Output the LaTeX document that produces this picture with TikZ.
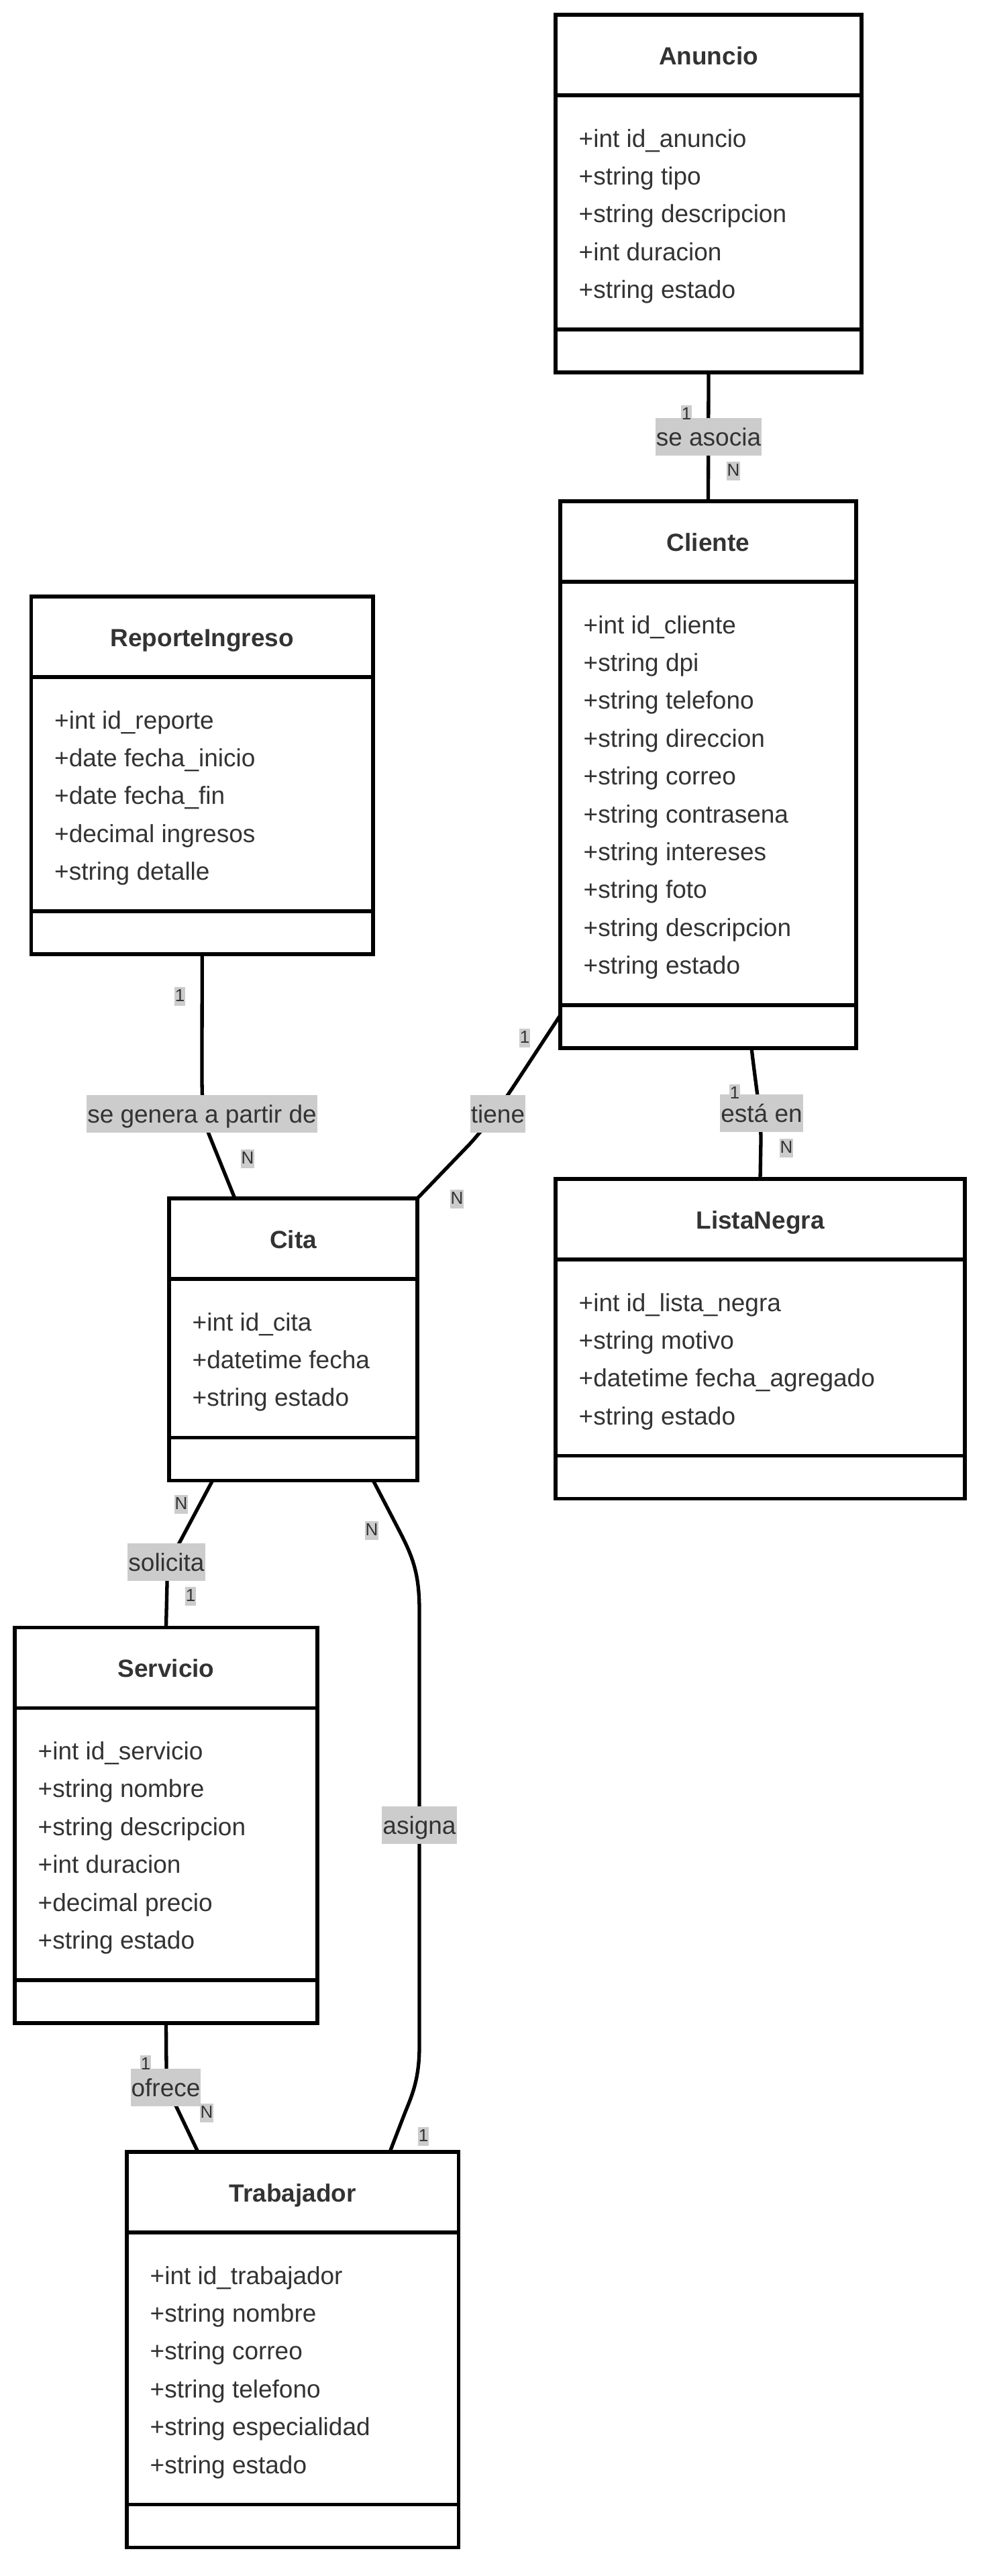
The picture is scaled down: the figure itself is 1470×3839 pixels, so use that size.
\documentclass[tikz,border=0pt]{standalone}
\usepackage{fontspec}
\setmainfont{Liberation Sans}
\definecolor{txt}{HTML}{333333}
\definecolor{lblgray}{HTML}{CCCCCC}
\tikzset{
  classframe/.style={draw=black, line width=5.3pt, fill=white, rectangle, inner sep=0pt, outer sep=0pt},
  divline/.style={draw=black, line width=5.3pt},
  titletext/.style={font=\fontsize{37pt}{44pt}\selectfont\bfseries, text=txt, inner sep=0pt, anchor=base},
  attrtext/.style={font=\fontsize{37pt}{44pt}\selectfont, text=txt, inner sep=0pt, anchor=base west},
  conn/.style={draw=black, line width=5.3pt},
  elabel/.style={fill=lblgray, text=txt, font=\fontsize{37pt}{44pt}\selectfont, inner xsep=1pt, inner ysep=0pt, text height=41pt, text depth=15pt},
  card/.style={fill=lblgray, text=txt, font=\fontsize{26pt}{30pt}\selectfont, inner xsep=0.5pt, inner ysep=0pt, text height=21pt, text depth=7pt}
}
\newcommand\umlclass[7]{%
  \pgfmathsetmacro\ucW{#3-#2}%
  \pgfmathsetmacro\ucH{120+#5*56.4+67+64}%
  \pgfmathsetmacro\ucX{(#2+#3)/2}%
  \pgfmathsetmacro\ucY{#4+\ucH/2}%
  \pgfmathsetmacro\ucDa{#4+120}%
  \pgfmathsetmacro\ucDb{#4+120+#5*56.4+67}%
  \node[classframe, minimum width=\ucW pt, minimum height=\ucH pt] (#1) at (\ucX,\ucY) {};
  \draw[divline] (#2,\ucDa) -- (#3,\ucDa);
  \draw[divline] (#2,\ucDb) -- (#3,\ucDb);
  \node[titletext] (#1-title) at (\ucX,#4+74) {#6};
  \foreach \a [count=\i] in {#7} {
    \pgfmathsetmacro\ucAy{#4+120+64+13+(\i-1)*56.4}
    \node[attrtext] (#1-a\i) at (#2+34.5,\ucAy) {\a};
  }
}
\begin{document}
\begin{tikzpicture}[x=1pt, y=-1pt]
\useasboundingbox (0,0) rectangle (1470,3839);
\fill[white] (0,0) rectangle (1470,3839);

\umlclass{anuncio}{828}{1284}{22}{5}{Anuncio}{+int id\_anuncio,+string tipo,+string descripcion,+int duracion,+string estado}
\umlclass{cliente}{835}{1276}{747}{10}{Cliente}{+int id\_cliente,+string dpi,+string telefono,+string direccion,+string correo,+string contrasena,+string intereses,+string foto,+string descripcion,+string estado}
\umlclass{reporte}{46.5}{556}{889}{5}{ReporteIngreso}{+int id\_reporte,+date fecha\_inicio,+date fecha\_fin,+decimal ingresos,+string detalle}
\umlclass{cita}{252}{622}{1786}{3}{Cita}{+int id\_cita,+datetime fecha,+string estado}
\umlclass{lista}{828}{1438}{1757}{4}{ListaNegra}{+int id\_lista\_negra,+string motivo,+datetime fecha\_agregado,+string estado}
\umlclass{servicio}{22}{473}{2425.5}{6}{Servicio}{+int id\_servicio,+string nombre,+string descripcion,+int duracion,+decimal precio,+string estado}
\umlclass{trabajador}{189}{683.5}{3207}{6}{Trabajador}{+int id\_trabajador,+string nombre,+string correo,+string telefono,+string especialidad,+string estado}

% named end points
\coordinate (clienteBot) at (1120,1562);
\coordinate (clienteLeft) at (835,1513);
\coordinate (citaTR) at (622,1786);
\coordinate (citaTop) at (350,1786);
\coordinate (citaBotL) at (317,2206);
\coordinate (citaBotR) at (556,2206);
\coordinate (trabTopL) at (295,3207);
\coordinate (trabTopR) at (581,3207);
% label centres
\coordinate (lAsocia) at (1056,651);
\coordinate (lEsta) at (1135,1659);
\coordinate (lTiene) at (742,1660);
\coordinate (lGenera) at (301,1660);
\coordinate (lSolicita) at (248,2328);
\coordinate (lAsigna) at (625,2720);
\coordinate (lOfrece) at (247,3111);

% connectors
\draw[conn] (anuncio.south) -- (cliente.north);
\draw[conn] (clienteBot) .. controls (1128,1630) and (1134,1660) .. (1134,1700) -- (lista.north);
\draw[conn] (clienteLeft) -- (770,1612) .. controls (745,1650) and (727,1675) .. (700,1705) -- (citaTR);
\draw[conn] (reporte.south) -- (301,1600) .. controls (301,1650) and (303,1670) .. (312,1692) -- (citaTop);
\draw[conn] (citaBotL) -- (268,2298) .. controls (256,2320) and (249,2335) .. (249,2360) -- (servicio.north);
\draw[conn] (citaBotR) -- (596,2283) .. controls (615,2320) and (625,2345) .. (625,2400) -- (625,3050) .. controls (625,3100) and (613,3125) .. (603,3150) -- (trabTopR);
\draw[conn] (servicio.south) -- (248,3085) .. controls (248,3115) and (256,3126) .. (263,3140) -- (trabTopL);

% relation labels
\node[elabel] (tAsocia) at (lAsocia) {se asocia};
\node[elabel] (tEsta) at (lEsta) {está en};
\node[elabel] (tTiene) at (lTiene) {tiene};
\node[elabel] (tGenera) at (lGenera) {se genera a partir de};
\node[elabel] (tSolicita) at (lSolicita) {solicita};
\node[elabel] (tAsigna) at (lAsigna) {asigna};
\node[elabel] (tOfrece) at (lOfrece) {ofrece};

% cardinalities
\node[card] (k1) at (1023,618) {1};
\node[card] (k2) at (1093,702) {N};
\node[card] (k3) at (1095,1630) {1};
\node[card] (k4) at (1172,1711) {N};
\node[card] (k5) at (782,1547) {1};
\node[card] (k6) at (681,1787) {N};
\node[card] (k7) at (268,1485) {1};
\node[card] (k8) at (369,1727) {N};
\node[card] (k9) at (270,2242) {N};
\node[card] (k10) at (284,2379) {1};
\node[card] (k11) at (554,2281) {N};
\node[card] (k12) at (631,3184) {1};
\node[card] (k13) at (217,3077) {1};
\node[card] (k14) at (308,3149) {N};
\end{tikzpicture}
\end{document}
